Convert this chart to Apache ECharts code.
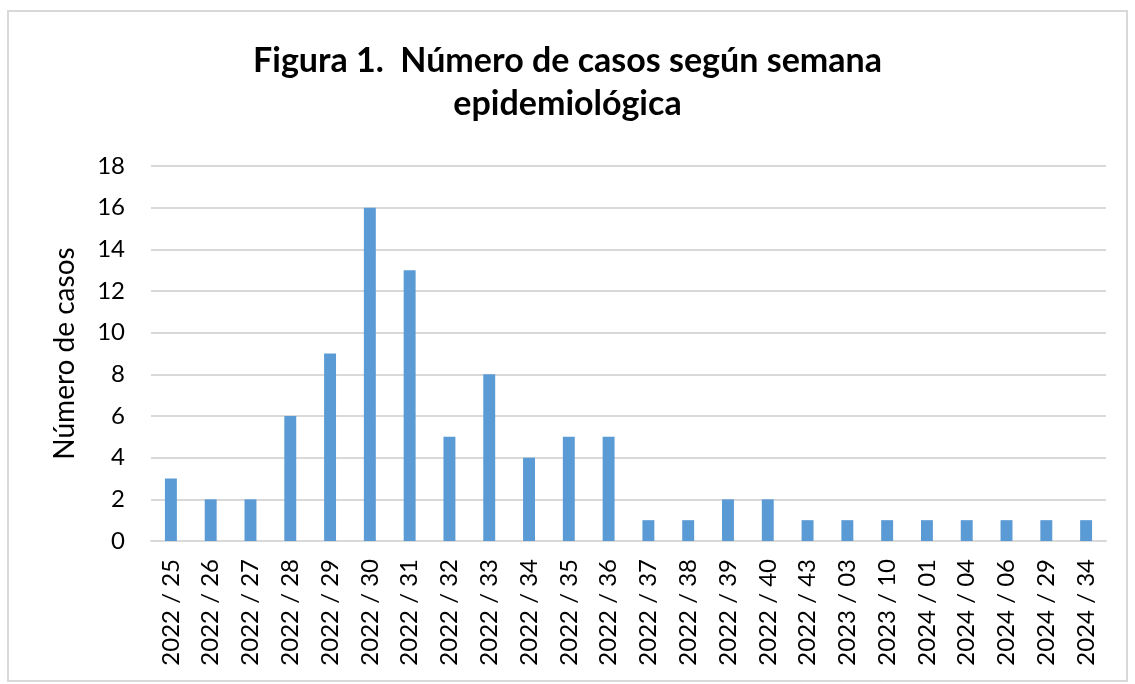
<!DOCTYPE html>
<html>
<head>
<meta charset="utf-8">
<script src="https://cdn.jsdelivr.net/npm/echarts@6/dist/echarts.min.js"></script>
<style>
  html, body { margin: 0; padding: 0; background: #fff; }
  #frame { position: absolute; left: 7px; top: 10px; width: 1121px; height: 672px; border: 2px solid #d9d9d9; box-sizing: border-box; }
  #chart { position: absolute; left: 0; top: 0; width: 1135px; height: 684px; }
</style>
</head>
<body>
<div id="frame"></div>
<div id="chart"></div>
<script>
// Semanas epidemiológicas
const semanas = ['2022 / 25', '2022 / 26', '2022 / 27', '2022 / 28', '2022 / 29', '2022 / 30',
  '2022 / 31', '2022 / 32', '2022 / 33', '2022 / 34', '2022 / 35', '2022 / 36', '2022 / 37',
  '2022 / 38', '2022 / 39', '2022 / 40', '2022 / 43', '2023 / 03', '2023 / 10', '2024 / 01',
  '2024 / 04', '2024 / 06', '2024 / 29', '2024 / 34'];
// Número de casos
const casos = [3, 2, 2, 6, 9, 16, 13, 5, 8, 4, 5, 5, 1, 1, 2, 2, 1, 1, 1, 1, 1, 1, 1, 1];

const fuente = 'Lato, "Open Sans", sans-serif';
const myChart = echarts.init(document.getElementById('chart'));

const option = {
  animation: false,
  title: {
    text: 'Figura 1.  Número de casos según semana\nepidemiológica',
    left: 'center',
    top: 35,
    textStyle: { fontFamily: fuente, fontSize: 34, fontWeight: 'bold', color: '#000', lineHeight: 43 }
  },
  grid: { left: 151, right: 29, top: 166, bottom: 143 },
  xAxis: {
    type: 'category',
    data: semanas,
    axisLine: { lineStyle: { color: '#d9d9d9', width: 2 } },
    axisTick: { show: false },
    axisLabel: { rotate: 90, interval: 0, margin: 18, fontFamily: fuente, fontSize: 24, color: '#000' }
  },
  yAxis: {
    type: 'value',
    min: 0,
    max: 18,
    interval: 2,
    name: 'Número de casos',
    nameLocation: 'middle',
    nameGap: 72,
    nameTextStyle: { fontFamily: fuente, fontSize: 28, color: '#000' },
    axisLine: { show: false },
    axisTick: { show: false },
    axisLabel: { margin: 26, fontFamily: fuente, fontSize: 24, color: '#000' },
    splitLine: { lineStyle: { color: '#d9d9d9', width: 2 } }
  },
  series: [{
    type: 'bar',
    data: casos,
    barWidth: '30%',
    itemStyle: { color: '#5b9bd5' }
  }]
};

myChart.setOption(option);
</script>
</body>
</html>
